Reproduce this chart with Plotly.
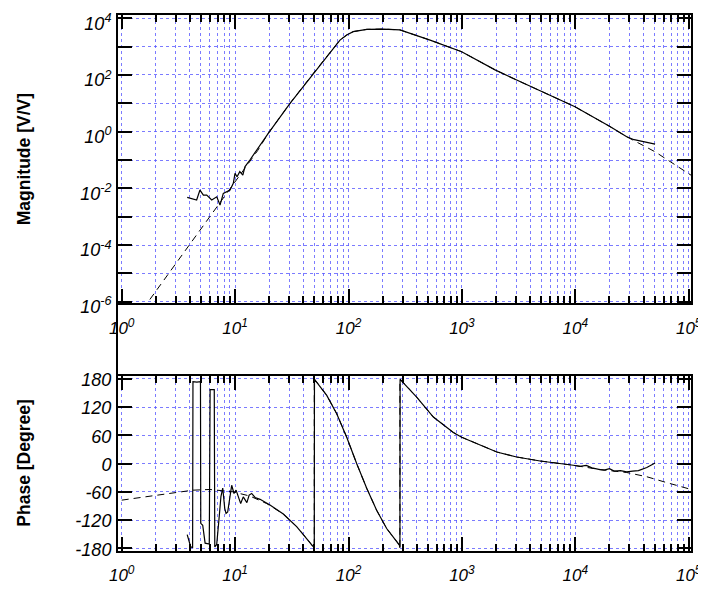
import plotly.graph_objects as go

# ---------------- data ----------------
# measured magnitude (solid)
mag_meas_f = [3.78, 4.17, 4.58, 4.90, 5.25, 5.62, 6.22, 6.89, 7.36, 7.87, 8.32, 9.02,
              9.64, 9.98, 10.4, 11.0, 11.7, 12.2, 13.5, 14.5, 16.0, 19.6, 30.5, 49.0,
              64.3, 84.1, 96.4, 110, 145, 203, 284, 348, 524, 995, 1960, 3040, 9930,
              20200, 28400, 33000, 39800, 50500]
mag_meas_v = [0.00479, 0.00417, 0.00389, 0.00871, 0.00575, 0.00575, 0.00389, 0.00501,
              0.00257, 0.00661, 0.00759, 0.00871, 0.0151, 0.0339, 0.0257, 0.0389, 0.0295,
              0.0575, 0.100, 0.151, 0.295, 0.871, 10.0, 115, 442, 1700, 2570, 3390, 4070,
              4170, 3890, 2950, 1700, 661, 151, 66.1, 7.59, 1.51, 0.661, 0.52, 0.447, 0.363]

# model magnitude (dashed)
mag_model_f = [1, 3.16, 10, 15.8, 19.6, 30.5, 49.0, 64.3, 84.1, 96.4, 110, 145, 203, 284,
               348, 524, 995, 1960, 3040, 9930, 20200, 28400, 50500, 105000]
mag_model_v = [5.1e-8, 2.95e-5, 0.0168, 0.214, 0.871, 10.0, 115, 442, 1700, 2570, 3390,
               4070, 4170, 3890, 2950, 1700, 661, 151, 66.1, 7.59, 1.51, 0.661, 0.195, 0.029]

# measured phase (solid)
ph_meas_f = [3.78, 4.06, 4.22, 4.25, 4.60, 4.95, 4.98, 5.18, 5.44, 5.92, 6.02, 6.55,
             6.62, 6.88, 7.20, 7.50, 7.78, 8.10, 8.32, 8.60, 9.33, 9.78, 10.2, 10.7,
             11.2, 11.8, 12.7, 13.3, 14.0, 15.0, 16.6, 20.3, 26.6, 34.9, 42.8, 49.9,
             50.1, 64.3, 78.7, 96.4, 118, 145, 177, 217, 281, 284, 285, 399, 560, 641,
             840, 995, 2030, 3040, 4890, 9600, 11000, 12500, 14000, 16500, 18000, 20000,
             22000, 25000, 28400, 32000, 36000, 42700, 50500]
ph_meas_v = [-151, -177, -178, 174, 173, 174, -127, -131, -169, -171, 157, 157,
             -177, -172, -120, -70, -52, -95, -106, -103, -46, -63.5, -56.5, -74,
             -85, -70.7, -83, -67, -63.5, -72, -76, -88, -107, -134, -159, -179,
             179, 144.7, 106, 56, 0, -53, -99, -138, -173, -179, 179, 141, 98.7, 88,
             66, 56, 24.6, 14, 5.5, -3.6, -6, -4, -9, -12.7, -14, -11,
             -16, -15, -17.8, -16, -15, -8.5, 1.3]

# model phase (dashed)
ph_model_f = [1, 3.16, 4.26, 6.01, 9.57, 13.5, 19.0, 26.6, 34.9, 42.8, 49.9, 49.9,
              64.3, 78.7, 96.4, 118, 145, 177, 217, 281, 284, 284, 399, 560, 641, 840,
              995, 2030, 3040, 4890, 9600, 16500, 28400, 42700, 63000, 99000, 105000]
ph_model_v = [-77.7, -61.4, -56.5, -55, -60, -69, -85, -107, -134, -159, -180, 180,
              144.7, 106, 56, 0, -53, -99, -138, -173, -180, 180, 141, 98.7, 88, 66,
              56, 24.6, 14, 5.5, -3.6, -12.7, -19, -28, -40, -53, -55]

# tick values / labels
x_tick_vals = [1, 10, 100, 1000, 10000, 100000]
x_tick_text = ["10<sup>0</sup>", "10<sup>1</sup>", "10<sup>2</sup>", "10<sup>3</sup>",
               "10<sup>4</sup>", "10<sup>5</sup>"]
x_minor_vals = [m * 10 ** e for e in range(0, 5) for m in range(2, 10)]
mag_tick_vals = [1e-6, 1e-4, 1e-2, 1, 100, 10000]
mag_tick_text = ["10<sup>-6</sup>", "10<sup>-4</sup>", "10<sup>-2</sup>",
                 "10<sup>0</sup>", "10<sup>2</sup>", "10<sup>4</sup>"]
mag_minor_vals = [1e-5, 1e-3, 1e-1, 10, 1000]
ph_tick_vals = [-180, -120, -60, 0, 60, 120, 180]
ph_tick_text = ["-180", "-120", "-60", "0", "60", "120", "180"]

# ---------------- figure ----------------
GRID = "rgba(90,90,255,0.8)"
FONT = "Liberation Sans, Arial, sans-serif"
ytickfont = dict(family=FONT, size=18, color="black", style="italic")
xtickfont = dict(family=FONT, size=17, color="black", style="italic")

fig = go.Figure()
fig.add_trace(go.Scatter(x=mag_model_f, y=mag_model_v, mode="lines",
                         line=dict(color="black", width=1, dash="7px,5px"),
                         xaxis="x", yaxis="y", showlegend=False))
fig.add_trace(go.Scatter(x=mag_meas_f, y=mag_meas_v, mode="lines",
                         line=dict(color="black", width=1.2),
                         xaxis="x", yaxis="y", showlegend=False))
fig.add_trace(go.Scatter(x=ph_model_f, y=ph_model_v, mode="lines",
                         line=dict(color="black", width=1, dash="7px,5px"),
                         xaxis="x2", yaxis="y2", showlegend=False))
fig.add_trace(go.Scatter(x=ph_meas_f, y=ph_meas_v, mode="lines",
                         line=dict(color="black", width=1.2),
                         xaxis="x2", yaxis="y2", showlegend=False))

common = dict(ticks="inside", ticklen=14, tickwidth=2, tickcolor="black",
              showline=True, linewidth=2, linecolor="black", mirror="allticks",
              showgrid=True, gridcolor=GRID, griddash="dot", gridwidth=1,
              zeroline=False, automargin=False, ticklabeloverflow="allow")
xminor = dict(tickvals=x_minor_vals, ticks="inside", ticklen=7, tickwidth=2,
              tickcolor="black", showgrid=True, gridcolor=GRID, griddash="dot", gridwidth=1)
yminor = dict(tickvals=mag_minor_vals, ticks="inside", ticklen=14, tickwidth=2,
              tickcolor="black", showgrid=True, gridcolor=GRID, griddash="dot", gridwidth=1)

# the page body has an 8px margin, so the figure is sized 8px smaller
fig.update_layout(
    width=698, height=586,
    margin=dict(l=110, r=15, t=7, b=43, autoexpand=False),
    paper_bgcolor="white", plot_bgcolor="white",
    xaxis=dict(type="log", range=[-0.0326, 5.020], domain=[0, 1], anchor="y",
               tickmode="array", tickvals=x_tick_vals, ticktext=x_tick_text,
               minor=xminor, ticklabelstandoff=8, tickfont=xtickfont, **common),
    yaxis=dict(type="log", range=[-6.056, 4.116], domain=[0.4621, 1.0], anchor="x",
               tickmode="array", tickvals=mag_tick_vals, ticktext=mag_tick_text,
               minor=yminor, ticklabelstandoff=1, ticklabelshift=5,
               tickfont=ytickfont, **common),
    xaxis2=dict(type="log", range=[-0.0326, 5.020], domain=[0, 1], anchor="y2",
                tickmode="array", tickvals=x_tick_vals, ticktext=x_tick_text,
                minor=xminor, ticklabelstandoff=8, tickfont=xtickfont, **common),
    yaxis2=dict(range=[-185.7, 187], domain=[0, 0.3274], anchor="x2",
                tickmode="array", tickvals=ph_tick_vals, ticktext=ph_tick_text,
                ticklabelstandoff=1, ticklabelshift=1, tickfont=ytickfont, **common),
    annotations=[
        dict(text="<b>Magnitude [V/V]</b>", xref="paper", yref="paper",
             x=-0.164, y=0.731, xanchor="center", yanchor="middle", textangle=-90,
             showarrow=False, font=dict(family=FONT, size=17.5, color="black")),
        dict(text="<b>Phase [Degree]</b>", xref="paper", yref="paper",
             x=-0.164, y=0.163, xanchor="center", yanchor="middle", textangle=-90,
             showarrow=False, font=dict(family=FONT, size=17.5, color="black")),
    ],
    shapes=[dict(type="line", xref="paper", yref="paper", x0=-0.0017, x1=-0.0017,
                 y0=0.584, y1=0.188, line=dict(color="black", width=2), layer="above")],
)

fig.write_html("out.html")
